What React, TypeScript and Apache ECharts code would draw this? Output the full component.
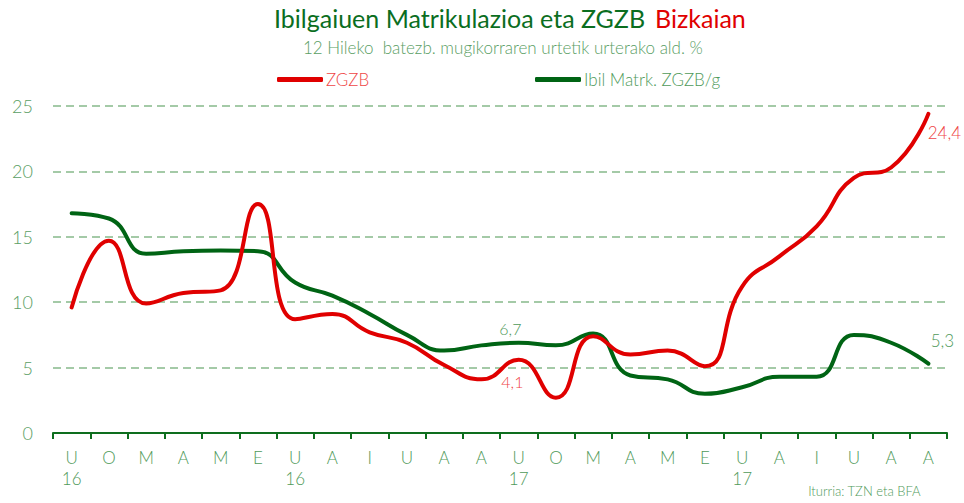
import React, { useEffect, useRef } from "react";
import * as echarts from "echarts";

const months = ["U", "O", "M", "A", "M", "E", "U", "A", "I", "U", "A", "A", "U", "O", "M", "A", "M", "E", "U", "A", "I", "U", "A", "A"];
const years = ["16", "", "", "", "", "", "16", "", "", "", "", "", "17", "", "", "", "", "", "17", "", "", "", "", ""];
const zgzb = [9.6, 14.7, 9.9, 10.7, 10.9, 17.5, 8.7, 9.1, 7.7, 6.9, 5.2, 4.1, 5.6, 2.7, 7.4, 6.0, 6.3, 5.1, 11.2, 13.5, 15.8, 19.5, 20.3, 24.4];
const ibil = [16.8, 16.4, 13.7, 13.9, 13.95, 13.9, 11.5, 10.5, 9.1, 7.5, 6.3, 6.7, 6.9, 6.7, 7.6, 4.4, 4.1, 3.0, 3.5, 4.3, 4.3, 7.5, 6.9, 5.3];
const yTicks = [0, 5, 10, 15, 20, 25];
const seriesNames = ["ZGZB", "Ibil Matrk. ZGZB/g"];
const labelledRed = [11, 23];
const labelledGreen = [11, 23];

const RED = "#e00000";
const GREEN = "#006414";
const LIGHTGREEN = "#4f9a5a";
const LABELRED = "#ef4646";
const FONT = "Lato";

export default function App() {
  const ref = useRef<HTMLDivElement>(null);
  useEffect(() => {
    document.body.style.margin = "0";
    const chart = echarts.init(ref.current!, null, { renderer: "svg" });
    const fmt = (p: any) => String(p.value).replace(".", ",");
    const redOffsets: Record<number, number[]> = { 11: [31, 2], 23: [16, 19] };
    const greenOffsets: Record<number, number[]> = { 11: [29, -17], 23: [14, -23] };
    const sizes: Record<number, number> = { 11: 16, 23: 17 };
    const mk = (arr: number[], idx: number[], offs: Record<number, number[]>, color: string) => ({
      symbol: "circle",
      symbolSize: 0,
      silent: true,
      data: idx.map((i) => ({
        coord: [i, arr[i]],
        value: arr[i],
        label: {
          show: true,
          position: "inside",
          offset: offs[i],
          formatter: fmt,
          color,
          fontSize: sizes[i],
          fontFamily: FONT,
          fontWeight: 300,
        },
      })),
    });
    chart.setOption({
      animation: false,
      backgroundColor: "#ffffff",
      title: [
        {
          text: "{g|Ibilgaiuen Matrikulazioa eta ZGZB}  {r|Bizkaian}",
          left: 274,
          top: 5,
          padding: 0,
          textStyle: {
            rich: {
              g: { fontFamily: FONT, fontSize: 25, color: "#0b6e1f", fontWeight: 400 },
              r: { fontFamily: FONT, fontSize: 25, color: RED, fontWeight: 400 },
            },
          },
        },
        {
          text: "12 Hileko  batezb. mugikorraren urtetik urterako ald. %",
          left: 303,
          top: 39,
          padding: 0,
          textStyle: { fontFamily: FONT, fontSize: 17, color: "#5a9e64", fontWeight: 300 },
        },
        {
          text: "Iturria: TZN eta BFA",
          right: 38,
          bottom: 1,
          textStyle: { fontFamily: FONT, fontSize: 13, color: LIGHTGREEN, fontWeight: 300 },
        },
      ],
      legend: [
        {
          data: [seriesNames[0]],
          left: 277,
          top: 71,
          padding: 0,
          icon: "roundRect",
          itemWidth: 46,
          itemHeight: 5,
          textStyle: { fontFamily: FONT, fontSize: 17, color: LABELRED, fontWeight: 300, padding: [0, 0, 0, -2] },
        },
        {
          data: [seriesNames[1]],
          left: 535,
          top: 71,
          padding: 0,
          icon: "roundRect",
          itemWidth: 46,
          itemHeight: 5,
          textStyle: { fontFamily: FONT, fontSize: 17, color: LIGHTGREEN, fontWeight: 300, padding: [0, 0, 0, -2] },
        },
      ],
      grid: { left: 53, right: 17, top: 106, bottom: 70, containLabel: false },
      xAxis: {
        type: "category",
        data: months.map((m, i) => (years[i] ? m + "\n" + years[i] : m)),
        boundaryGap: true,
        axisLine: { show: true, lineStyle: { color: "#0e6e1e", width: 2 } },
        axisTick: { show: true, length: 6, lineStyle: { color: "#0e6e1e", width: 2 } },
        axisLabel: { fontFamily: FONT, fontSize: 17, color: LIGHTGREEN, fontWeight: 300, margin: 14, lineHeight: 21, interval: 0 },
        splitLine: { show: false },
      },
      yAxis: {
        type: "value",
        min: yTicks[0],
        max: yTicks[yTicks.length - 1],
        interval: yTicks[1] - yTicks[0],
        axisLine: { show: false },
        axisTick: { show: false },
        axisLabel: { fontFamily: FONT, fontSize: 18, color: "#5a9e64", fontWeight: 300, margin: 20 },
        splitLine: { show: true, lineStyle: { color: "#86b98a", type: [8, 5], width: 1.6 } },
      },
      series: [
        {
          name: seriesNames[0],
          type: "line",
          data: zgzb,
          smooth: 0.5,
          symbol: "none",
          lineStyle: { color: RED, width: 4, cap: "round" },
          itemStyle: { color: RED },
          markPoint: mk(zgzb, labelledRed, redOffsets, LABELRED),
          z: 3,
        },
        {
          name: seriesNames[1],
          type: "line",
          data: ibil,
          smooth: 0.5,
          symbol: "none",
          lineStyle: { color: GREEN, width: 4, cap: "round" },
          itemStyle: { color: GREEN },
          markPoint: mk(ibil, labelledGreen, greenOffsets, LIGHTGREEN),
          z: 2,
        },
      ],
    });
    return () => chart.dispose();
  }, []);
  return <div ref={ref} style={{ width: 964, height: 503 }} />;
}
